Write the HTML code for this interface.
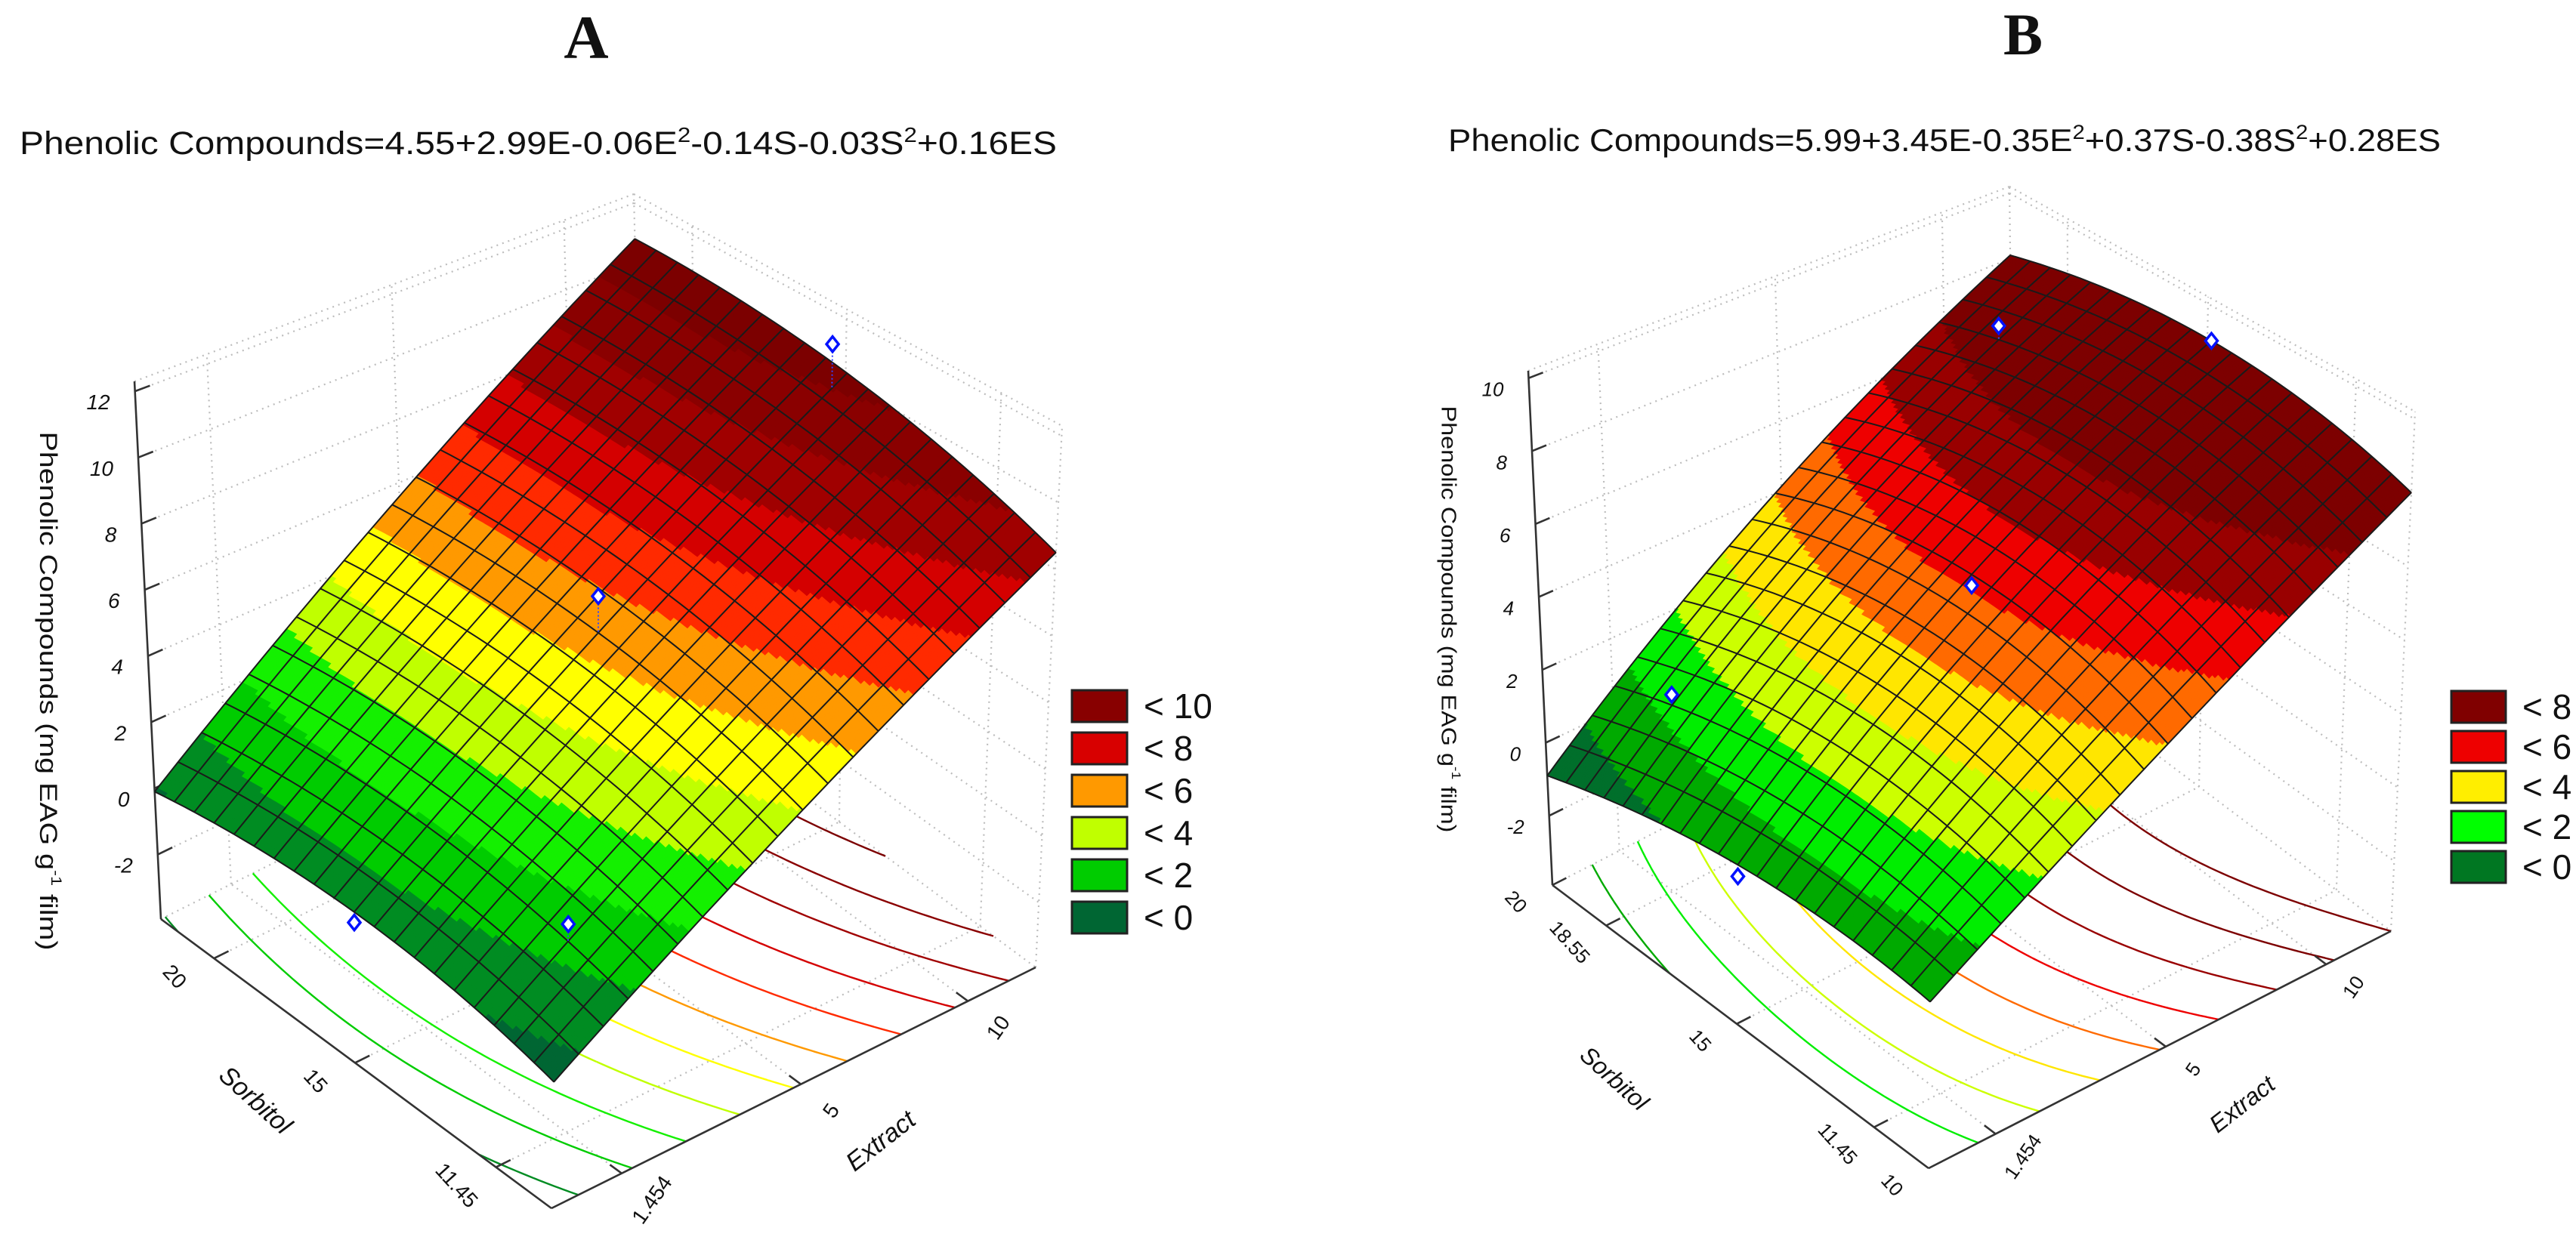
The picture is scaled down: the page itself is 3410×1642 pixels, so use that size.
<!DOCTYPE html>
<html><head><meta charset="utf-8"><style>
html,body{margin:0;padding:0;background:#fff}
svg{display:block}
text{font-family:"Liberation Sans",sans-serif;fill:#111}
</style></head><body>
<svg id="fig" xmlns="http://www.w3.org/2000/svg" width="3410" height="1642" viewBox="0 0 3410 1642">
<rect x="0" y="0" width="3410" height="1642" fill="#fff"/>
<text x="776" y="77" text-anchor="middle" style="font-family:'Liberation Serif',serif;font-weight:bold;font-size:82px">A</text>
<text x="2678" y="72" text-anchor="middle" style="font-family:'Liberation Serif',serif;font-weight:bold;font-size:78px">B</text>
<text x="26" y="204" font-size="43" textLength="1373" lengthAdjust="spacingAndGlyphs">Phenolic Compounds=4.55+2.99E-0.06E<tspan dy="-16" font-size="28">2</tspan><tspan dy="16">-0.14S-0.03S</tspan><tspan dy="-16" font-size="28">2</tspan><tspan dy="16">+0.16ES</tspan></text>
<text x="1917" y="200" font-size="42" textLength="1314" lengthAdjust="spacingAndGlyphs">Phenolic Compounds=5.99+3.45E-0.35E<tspan dy="-16" font-size="27">2</tspan><tspan dy="16">+0.37S-0.38S</tspan><tspan dy="-16" font-size="27">2</tspan><tspan dy="16">+0.28ES</tspan></text>
</svg>
<script>
// ---------- Panel A data ----------
const surfA_sMin = [-0.5, 4.0, 8.5];   // z along extract (min, mid, max) at sorbitol min
const surfA_sMid = [0.4, 5.4, 10.3];
const surfA_sMax = [-0.1, 5.4, 10.8];
const bandEdgesA = [0,1,2,3,4,5,6,7,8,9,10];
const bandColorsA = ['#006633','#008c22','#00cc00','#14f000','#c0ff00','#ffff00','#ff9900','#ff2a00','#d40000','#a00000','#8a0000','#7c0000'];
const contourLevelsA = [0,1,2,3,4,5,6,7,8,9,10];
const zTicksA = [-2,0,2,4,6,8,10,12];
const sorbTickPosA = [0.864, 0.503, 0.142];
const sorbTickLabelsA = ['20','15','11.45'];
const extTickPosA = [0.145, 0.515, 0.86];
const extTickLabelsA = ['1.454','5','10'];
const markA_e = [0.97, 0.5, 0.0, 0.15];
const markA_s = [0.5, 0.5, 0.5, 0.15];
const markA_z = [11.4, 6.5, 0.1, 1.8];
const legendLabelsA = ['< 10','< 8','< 6','< 4','< 2','< 0'];
const legendColorsA = ['#880000','#d80000','#ff9900','#c0ff00','#00cc00','#006633'];
// ---------- Panel B data ----------
const surfB_sMin = [0.2, 4.0, 8.0];
const surfB_sMid = [0.3, 5.2, 9.0];
const surfB_sMax = [-0.9, 4.0, 8.1];
const bandEdgesB = [0,1,2,3,4,5,6,7];
const bandColorsB = ['#006f2b','#00aa00','#00ee00','#ccff00','#ffe600','#ff6a00','#ee0000','#990000','#7d0000'];
const contourLevelsB = [0,1,2,3,4,5,6,7,8];
const zTicksB = [-2,0,2,4,6,8,10];
const sorbTickPosB = [1.0, 0.857, 0.51, 0.145, 0.0];
const sorbTickLabelsB = ['20','18.55','15','11.45','10'];
const extTickPosB = [0.145, 0.513, 0.86];
const extTickLabelsB = ['1.454','5','10'];
const markB_e = [0.85, 1.0, 0.15, 0.0, 0.5];
const markB_s = [0.85, 0.5, 0.85, 0.5, 0.5];
const markB_z = [7.9, 9.0, 1.5, 0.0, 4.9];
const legendLabelsB = ['< 8','< 6','< 4','< 2','< 0'];
const legendColorsB = ['#800000','#ee0000','#ffee00','#00ff00','#007722'];

const NS = 'http://www.w3.org/2000/svg';
const svg = document.getElementById('fig');
function mk(tag, parent){ const e=document.createElementNS(NS, tag); parent.appendChild(e); return e; }
function sa(e, o){ for(const k in o) e.setAttribute(k, o[k]); return e; }
function lag(t){ return [2*(t-0.5)*(t-1), -4*t*(t-1), 2*t*(t-0.5)]; }

function panel(cfg){
  const g = mk('g', svg);
  
  
  const c = cfg.box;
  const zr = cfg.zmax - cfg.zmin;
  function P(e, s, z){
    const h = (z - cfg.zmin)/zr;
    const w = [(1-e)*(1-s), e*(1-s), (1-e)*s, e*s];
    const b = [c.F, c.R, c.L, c.K], t = [c.Ft, c.Rt, c.Lt, c.Kt];
    let bx=0,by=0,tx=0,ty=0;
    for(let i=0;i<4;i++){ bx+=w[i]*b[i][0]; by+=w[i]*b[i][1]; tx+=w[i]*t[i][0]; ty+=w[i]*t[i][1]; }
    return [bx+(tx-bx)*h, by+(ty-by)*h];
  }
  const rows = [cfg.sMin, cfg.sMid, cfg.sMax];
  function Z(e, s){ const le=lag(e), ls=lag(s); let v=0; for(let i=0;i<3;i++) for(let j=0;j<3;j++) v+=ls[i]*le[j]*rows[i][j]; return v; }
  function band(v){ let k=0; while(k<cfg.edges.length && v>=cfg.edges[k]) k++; return k; }
  const f = (p)=>p[0].toFixed(1)+','+p[1].toFixed(1);
  const zmin = cfg.zmin, zmax = cfg.zmax;
  let d='';
  const seg=(a,b)=>{ d+='M'+f(a)+'L'+f(b); };
  cfg.zTicks.forEach(z=>{ seg(P(0,1,z),P(1,1,z)); seg(P(1,1,z),P(1,0,z)); });
  cfg.extPos.forEach(e=>{ seg(P(e,0,zmin),P(e,1,zmin)); seg(P(e,1,zmin),P(e,1,zmax)); });
  cfg.sorbPos.forEach(s=>{ seg(P(0,s,zmin),P(1,s,zmin)); seg(P(1,s,zmin),P(1,s,zmax)); });
  seg(P(0,1,zmax),P(1,1,zmax)); seg(P(1,1,zmax),P(1,0,zmax));
  seg(P(1,1,zmin),P(1,1,zmax)); seg(P(1,0,zmin),P(1,0,zmax));
  seg(P(0,1,zmin),P(1,1,zmin)); seg(P(1,1,zmin),P(1,0,zmin));
  const grid = mk('path', g);
  
  
  sa(grid, {d:d, fill:'none', stroke:'#bdbdbd', 'stroke-width':2.2, 'stroke-dasharray':'2 6'});
  const M = 70;
  const V = [];
  for(let i=0;i<=M;i++){ V.push([]); for(let j=0;j<=M;j++) V[i].push(Z(i/M, j/M)); }
  cfg.levels.forEach(lv=>{
    let pd='';
    for(let i=0;i<M;i++) for(let j=0;j<M;j++){
      const cs=[[i,j],[i+1,j],[i+1,j+1],[i,j+1]];
      const pts=[];
      for(let k=0;k<4;k++){
        const a=cs[k], b=cs[(k+1)%4];
        const va=V[a[0]][a[1]], vb=V[b[0]][b[1]];
        if((va<lv)!==(vb<lv)){
          const t=(lv-va)/(vb-va);
          pts.push(P((a[0]+(b[0]-a[0])*t)/M, (a[1]+(b[1]-a[1])*t)/M, zmin));
        }
      }
      if(pts.length>=2) pd+='M'+f(pts[0])+'L'+f(pts[1]);
      if(pts.length===4) pd+='M'+f(pts[2])+'L'+f(pts[3]);
    }
    const cl = mk('path', g);
    
    
    sa(cl, {d:pd, fill:'none', stroke:cfg.colors[band(lv-0.5)+1] || cfg.colors[cfg.colors.length-1], 'stroke-width':2.4});
  });
  let ad='';
  const aseg=(a,b)=>{ ad+='M'+f(a)+'L'+f(b); };
  aseg(P(0,1,zmin),P(0,1,zmax)); aseg(P(0,1,zmin),P(0,0,zmin)); aseg(P(0,0,zmin),P(1,0,zmin));
  cfg.zTicks.forEach(z=>aseg(P(0,1,z),P(0.03,1,z)));
  cfg.sorbPos.forEach(s=>aseg(P(0,s,zmin),P(0.03,s,zmin)));
  cfg.extPos.forEach(e=>aseg(P(e,0,zmin),P(e,0.03,zmin)));
  const ax = mk('path', g);
  
  
  sa(ax, {d:ad, fill:'none', stroke:'#333', 'stroke-width':2.6});
  cfg.zTicks.forEach(z=>{
    const p=P(0,1,z);
    const t=mk('text', g);
    
    
    sa(t, {x:(p[0]-33).toFixed(1), y:(p[1]+24).toFixed(1), 'text-anchor':'end', 'font-size':cfg.tickFont, 'font-style':'italic'});
    t.textContent=String(z);
  });
  cfg.sorbPos.forEach((s,i)=>{
    const p=P(0,s,zmin);
    const x=p[0]+cfg.sOff[0], y=p[1]+cfg.sOff[1];
    const t=mk('text', g);
    
    
    sa(t, {x:x.toFixed(1), y:y.toFixed(1), 'text-anchor':'middle', 'dominant-baseline':'central', 'font-size':cfg.tickFont, transform:'rotate(48 '+x.toFixed(1)+' '+y.toFixed(1)+')'});
    t.textContent=cfg.sorbLabels[i];
  });
  cfg.extPos.forEach((e,i)=>{
    const p=P(e,0,zmin);
    const x=p[0]+cfg.eOff[0], y=p[1]+cfg.eOff[1];
    const t=mk('text', g);
    
    
    sa(t, {x:x.toFixed(1), y:y.toFixed(1), 'text-anchor':'middle', 'dominant-baseline':'central', 'font-size':cfg.tickFont, transform:'rotate(-55 '+x.toFixed(1)+' '+y.toFixed(1)+')'});
    t.textContent=cfg.extLabels[i];
  });
  const N = 150;
  const paths = cfg.colors.map(()=> '');
  for(let i=0;i<N;i++) for(let j=0;j<N;j++){
    const e0=i/N, e1=(i+1)/N, s0=j/N, s1=(j+1)/N;
    const k = band(Z((e0+e1)/2,(s0+s1)/2));
    paths[k]+='M'+f(P(e0,s0,Z(e0,s0)))+'L'+f(P(e1,s0,Z(e1,s0)))+'L'+f(P(e1,s1,Z(e1,s1)))+'L'+f(P(e0,s1,Z(e0,s1)))+'Z';
  }
  paths.forEach((pd,k)=>{
    if(!pd) return;
    const sp = mk('path', g);
    
    
    sa(sp, {d:pd, fill:cfg.colors[k], stroke:cfg.colors[k], 'stroke-width':1.2, 'stroke-linejoin':'round'});
  });
  const D = 20, S = 40;
  let md='';
  for(let a=0;a<=D;a++){
    const u=a/D;
    md+='M'; for(let b=0;b<=S;b++){ const v=b/S; md+=(b?'L':'')+f(P(u,v,Z(u,v))); }
    md+='M'; for(let b=0;b<=S;b++){ const v=b/S; md+=(b?'L':'')+f(P(v,u,Z(v,u))); }
  }
  const mesh = mk('path', g);
  
  
  sa(mesh, {d:md, fill:'none', stroke:'#1a1a1a', 'stroke-width':2, 'stroke-linejoin':'round'});
  cfg.me.forEach((e,i)=>{
    const s=cfg.ms[i], z=cfg.mz[i];
    const p=P(e,s,z), q=P(e,s,Z(e,s));
    if(z>Z(e,s)+0.3){
      const dl=mk('line', g);
      
      
      sa(dl, {x1:p[0].toFixed(1), y1:p[1].toFixed(1), x2:q[0].toFixed(1), y2:q[1].toFixed(1), stroke:'#3344ff', 'stroke-width':2, 'stroke-dasharray':'2 3'});
    }
    const m=mk('path', g);
    
    
    sa(m, {d:'M'+(p[0]-8).toFixed(1)+','+p[1].toFixed(1)+'L'+p[0].toFixed(1)+','+(p[1]-10).toFixed(1)+'L'+(p[0]+8).toFixed(1)+','+p[1].toFixed(1)+'L'+p[0].toFixed(1)+','+(p[1]+10).toFixed(1)+'Z', fill:'#fff', stroke:'#0011ff', 'stroke-width':3.5});
  });
  const yt = mk('text', g);
  
  
  sa(yt, {x:cfg.yTitle[0], y:cfg.yTitle[1], 'text-anchor':'middle', 'dominant-baseline':'central', 'font-size':cfg.yTitleFont, textLength:cfg.yTitleLen, lengthAdjust:'spacingAndGlyphs', transform:'rotate(90 '+cfg.yTitle[0]+' '+cfg.yTitle[1]+')'});
  yt.innerHTML = 'Phenolic Compounds (mg EAG g<tspan dy="-10" font-size="'+(cfg.yTitleFont*0.6)+'">-1</tspan><tspan dy="10"> film)</tspan>';
  const st = mk('text', g);
  
  
  sa(st, {x:cfg.sTitle[0], y:cfg.sTitle[1], 'text-anchor':'middle', 'dominant-baseline':'central', 'font-size':cfg.titleFont, 'font-style':'italic', transform:'rotate(42 '+cfg.sTitle[0]+' '+cfg.sTitle[1]+')'});
  st.textContent='Sorbitol';
  const et = mk('text', g);
  
  
  sa(et, {x:cfg.eTitle[0], y:cfg.eTitle[1], 'text-anchor':'middle', 'dominant-baseline':'central', 'font-size':cfg.titleFont, 'font-style':'italic', transform:'rotate(-38 '+cfg.eTitle[0]+' '+cfg.eTitle[1]+')'});
  et.textContent='Extract';
  cfg.legLabels.forEach((lab,i)=>{
    const y = cfg.leg[1] + i*cfg.leg[4];
    const r = mk('rect', g);
    
    
    sa(r, {x:cfg.leg[0], y:y, width:cfg.leg[2], height:cfg.leg[3], fill:cfg.legColors[i], stroke:'#222', 'stroke-width':3});
    const t = mk('text', g);
    
    
    sa(t, {x:cfg.leg[0]+cfg.leg[2]+22, y:y+cfg.leg[3]/2+16, 'font-size':46});
    t.textContent = lab;
  });
}

panel({name:'panel-a-surface-plot', zmin:-3.95, zmax:12.3,
  box:{F:[730,1600],R:[1371,1281],L:[213,1217],K:[854,898],Ft:[745,812],Rt:[1406,564],Lt:[178,505],Kt:[839,257]},
  sMin:surfA_sMin, sMid:surfA_sMid, sMax:surfA_sMax, edges:bandEdgesA, colors:bandColorsA, levels:contourLevelsA,
  zTicks:zTicksA, sorbPos:sorbTickPosA, sorbLabels:sorbTickLabelsA, extPos:extTickPosA, extLabels:extTickLabelsA,
  sOff:[-52,24], eOff:[40,35], tickFont:28, me:markA_e, ms:markA_s, mz:markA_z,
  yTitle:[64,915], yTitleFont:32, yTitleLen:687, sTitle:[338,1457], eTitle:[1166,1511], titleFont:34,
  legLabels:legendLabelsA, legColors:legendColorsA, leg:[1419,914,73,42,56]});
panel({name:'panel-b-surface-plot', zmin:-3.9, zmax:10.2,
  box:{F:[2553,1547],R:[3165,1233],L:[2055,1172],K:[2667,858],Ft:[2560,789],Rt:[3197,545],Lt:[2023,491],Kt:[2660,247]},
  sMin:surfB_sMin, sMid:surfB_sMid, sMax:surfB_sMax, edges:bandEdgesB, colors:bandColorsB, levels:contourLevelsB,
  zTicks:zTicksB, sorbPos:sorbTickPosB, sorbLabels:sorbTickLabelsB, extPos:extTickPosB, extLabels:extTickLabelsB,
  sOff:[-48,22], eOff:[36,30], tickFont:26, me:markB_e, ms:markB_s, mz:markB_z,
  yTitle:[1918,820], yTitleFont:28, yTitleLen:565, sTitle:[2137,1428], eTitle:[2968,1462], titleFont:32,
  legLabels:legendLabelsB, legColors:legendColorsB, leg:[3245,915,72,42,53]});
</script>
</body></html>
